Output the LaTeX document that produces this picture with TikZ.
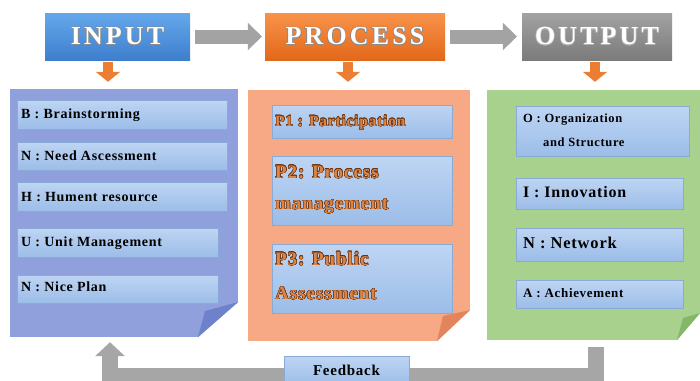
\documentclass[tikz,border=0pt]{standalone}
\usepackage{fontspec}
\setmainfont{Liberation Serif}
\newfontfamily\itemfont{Liberation Serif}[LetterSpace=5]
\newfontfamily\headfont{Liberation Serif}[LetterSpace=12]
\usepackage[copies]{contour}
\contournumber{16}
\usetikzlibrary{arrows.meta,calc}

% palette
\definecolor{hdblueT}{HTML}{64A8EC}
\definecolor{hdblueB}{HTML}{3E7FCD}
\definecolor{hdorT}{HTML}{F8934A}
\definecolor{hdorB}{HTML}{E2681A}
\definecolor{hdgrT}{HTML}{A2A2A2}
\definecolor{hdgrB}{HTML}{7B7B7B}
\definecolor{arrgray}{HTML}{A3A3A3}
\definecolor{orarrow}{HTML}{ED7D31}
\definecolor{panblue}{HTML}{8FA0DC}
\definecolor{foldblue}{HTML}{6E82CC}
\definecolor{pansalmon}{HTML}{F7A885}
\definecolor{foldsalmon}{HTML}{E3855C}
\definecolor{pangreen}{HTML}{A8D18D}
\definecolor{foldgreen}{HTML}{84B768}
\definecolor{itemT}{HTML}{BED5F3}
\definecolor{itemB}{HTML}{9CBDE8}
\definecolor{itemline}{HTML}{8AABD6}
\definecolor{ptext}{HTML}{DB8443}
\definecolor{ptextline}{HTML}{6B3515}
\definecolor{fbgray}{HTML}{A6A6A6}
\definecolor{fbbox}{HTML}{AFCBEE}

\tikzset{
  header/.style={minimum height=47pt, inner sep=0pt, text=white,
    font=\headfont\bfseries\fontsize{26}{28}\selectfont},
  panel/.style={inner sep=0pt, draw=none},
  item/.style={draw=itemline, line width=0.6pt, top color=itemT,
    bottom color=itemB, inner sep=0pt},
  itxt/.style={anchor=base west, inner sep=0pt, text=black},
  ptxt/.style={anchor=base west, inner sep=0pt, text=ptext,
    font=\itemfont\bfseries\fontsize{19}{21}\selectfont},
  gblock/.style={line width=14pt, draw=arrgray,
    -{Triangle[width=27pt,length=14pt]}},
  oarrow/.style={line width=10pt, draw=orarrow,
    -{Triangle[width=24pt,length=10pt]}},
  fbarrow/.style={line width=16pt, draw=fbgray,
    -{Triangle[width=29pt,length=14pt]}},
}
\newcommand{\fsz}[1]{\itemfont\bfseries\fontsize{#1}{#1}\selectfont}

\begin{document}
\begin{tikzpicture}[x=1pt,y=-1pt]
\useasboundingbox (0,0) rectangle (700,380);
\fill[white] (0,0) rectangle (700,380);

% ---- stage headers ----
\node[header, minimum width=145pt, top color=hdblueT, bottom color=hdblueB]
  (in) at (117.5,36.5) {\contourlength{0.5pt}\contour{black!45}{INPUT}};
\node[header, minimum width=180pt, top color=hdorT, bottom color=hdorB]
  (pr) at (355,36.5) {\contourlength{0.5pt}\contour{black!45}{PROCESS}};
\node[header, minimum width=150pt, top color=hdgrT, bottom color=hdgrB]
  (out) at (597,36.5) {\contourlength{0.5pt}\contour{black!30}{OUTPUT}};

\draw[gblock, shorten <=5pt, shorten >=3pt] (in.east) -- (pr.west);
\draw[gblock, shorten <=5pt, shorten >=5pt] (pr.east) -- (out.west);

% ---- panels ----
\node[panel, fill=panblue, minimum width=228pt, minimum height=248pt]
  (inp) at (124,213) {};
\node[panel, fill=pansalmon, minimum width=222pt, minimum height=251pt]
  (prp) at (359,215.5) {};
\node[panel, fill=pangreen, minimum width=218pt, minimum height=250pt]
  (outp) at (596,215) {};

% folded corners
\fill[white] (198,337.5) -- (238.5,337.5) -- (238.5,302) -- cycle;
\fill[foldblue] (198,337) -- (205,311) -- (238,302) -- cycle;
\fill[white] (437,341.5) -- (470.5,341.5) -- (470.5,310) -- cycle;
\fill[foldsalmon] (437,341) -- (443,316) -- (470,310) -- cycle;
\fill[white] (677,340.5) -- (700.5,340.5) -- (700.5,313) -- cycle;
\fill[foldgreen] (677,340) -- (683,318) -- (700,313) -- cycle;

% arrows into the panels
\draw[oarrow, shorten >=7pt] ([xshift=-9.5pt]in.south) ++(0,2) -- ([xshift=-16pt]inp.north);
\draw[oarrow, shorten >=8pt] ([xshift=-7pt]pr.south) ++(0,2) -- ([xshift=-11pt]prp.north);
\draw[oarrow, shorten >=8pt] ([xshift=-2pt]out.south) ++(0,2) -- ([xshift=-1pt]outp.north);

% ---- input items ----
\node[item, minimum width=210pt, minimum height=29pt] (b1) at (122,114.5) {};
\node[item, minimum width=210pt, minimum height=28pt] (b2) at (122,156) {};
\node[item, minimum width=210pt, minimum height=29pt] (b3) at (122,196.5) {};
\node[item, minimum width=201pt, minimum height=29pt] (b4) at (117.5,242.5) {};
\node[item, minimum width=201pt, minimum height=28pt] (b5) at (117.5,289) {};
\node[itxt, font=\fsz{14}] (b1t) at (21,118.8) {B : Brainstorming};
\node[itxt, font=\fsz{14}] (b2t) at (21,160.8) {N : Need Ascessment};
\node[itxt, font=\fsz{14}] (b3t) at (21,201.3) {H : Hument resource};
\node[itxt, font=\fsz{14}] (b4t) at (21,246.8) {U : Unit Management};
\node[itxt, font=\fsz{14}] (b5t) at (21,291.8) {N : Nice Plan};

% ---- process items ----
\node[item, minimum width=180pt, minimum height=33pt] (p1) at (362,121.5) {};
\node[item, minimum width=180pt, minimum height=69pt] (p2) at (362,190.5) {};
\node[item, minimum width=180pt, minimum height=69pt] (p3) at (362,278.5) {};
\contourlength{0.45pt}
\node[ptxt, font=\fsz{15.5}] (p1t) at (275,126.2) {\contour{ptextline}{P1 : Participation}};
\node[ptxt] (p2a) at (275,178.3) {\contour{ptextline}{P2: Process}};
\node[ptxt] (p2b) at (275,209.5) {\contour{ptextline}{management}};
\node[ptxt] (p3a) at (275,265.3) {\contour{ptextline}{P3: Public}};
\node[ptxt] (p3b) at (275,299.5) {\contour{ptextline}{Assessment}};

% ---- output items ----
\node[item, minimum width=173pt, minimum height=50pt] (o1) at (602.5,131) {};
\node[item, minimum width=167pt, minimum height=31pt] (o2) at (599.5,193.5) {};
\node[item, minimum width=167pt, minimum height=33pt] (o3) at (599.5,244.5) {};
\node[item, minimum width=167pt, minimum height=28pt] (o4) at (599.5,294) {};
\node[itxt, font=\fsz{12.5}] (o1a) at (523,122.2) {O : Organization};
\node[itxt, font=\fsz{12.5}] (o1b) at (543,146) {and Structure};
\node[itxt, font=\fsz{16}] (o2t) at (523,197.3) {I : Innovation};
\node[itxt, font=\fsz{16.5}] (o3t) at (523,248.5) {N : Network};
\node[itxt, font=\fsz{13}] (o4t) at (523,297.3) {A : Achievement};

% ---- feedback loop ----
\coordinate (fbr) at (596,376);
\coordinate (fbl) at (110,376);
\draw[fbarrow, shorten >=5pt] ($(outp.south)+(0,7)$) -- (fbr) -- (fbl) -- (inp.south -| fbl);
\node[item, minimum width=125pt, minimum height=28pt, font=\fsz{15}]
  (fb) at (346.5,370.5) {Feedback};
\end{tikzpicture}
\end{document}
